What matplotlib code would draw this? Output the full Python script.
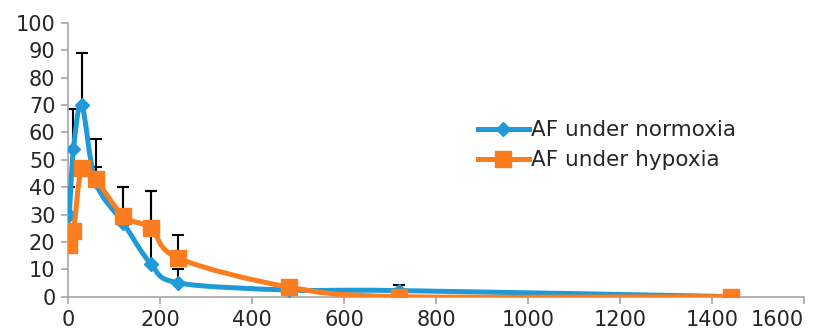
import numpy as np
import matplotlib
matplotlib.use("Agg")
import matplotlib.pyplot as plt
from matplotlib.path import Path
from matplotlib.patches import PathPatch
from matplotlib.lines import Line2D

plt.rcParams["font.family"] = ["DejaVu Sans"]

# time points (min)
time = [3, 12, 30, 60, 120, 180, 240, 480, 720, 1440]

normoxia = [30, 54, 70, 42, 27, 12, 5, 2.4, 2.2, 0]
normoxia_err = [10, 14.5, 19, 15.5, 13, 26.5, 5, 0, 2, 0]

hypoxia = [19, 24, 47, 43, 29.5, 25, 14, 3.5, 0, 0]
hypoxia_err = [0, 0, 0, 4.5, 10.5, 13.5, 8.5, 0, 0, 0]

labels = ["AF under normoxia", "AF under hypoxia"]

blue = "#1f9ad6"
orange = "#fb7d1f"
axis_grey = "#a6a6a6"


def smooth_path(x, y):
    # Excel-like smoothed line as cubic Bezier segments
    x = np.asarray(x, float)
    y = np.asarray(y, float)
    n = len(x)
    verts = [(x[0], y[0])]
    codes = [Path.MOVETO]
    for i in range(n - 1):
        i0 = max(i - 1, 0)
        i3 = min(i + 2, n - 1)
        c1 = (x[i] + (x[i + 1] - x[i0]) / 6, y[i] + (y[i + 1] - y[i0]) / 6)
        c2 = (x[i + 1] - (x[i3] - x[i]) / 6, y[i + 1] - (y[i3] - y[i]) / 6)
        verts += [c1, c2, (x[i + 1], y[i + 1])]
        codes += [Path.CURVE4] * 3
    return Path(verts, codes)


fig = plt.figure(figsize=(8.29, 3.34), dpi=100)
ax = fig.add_axes([0.082, 0.112, 0.888, 0.819])

ax.errorbar(time, normoxia, yerr=[np.zeros(len(time)), normoxia_err],
            fmt="none", ecolor="black", elinewidth=1.5, capsize=4,
            capthick=1.5, zorder=2)
ax.errorbar(time, hypoxia, yerr=[np.zeros(len(time)), hypoxia_err],
            fmt="none", ecolor="black", elinewidth=1.5, capsize=4,
            capthick=1.5, zorder=2)

ax.add_patch(PathPatch(smooth_path(time, normoxia), facecolor="none",
                       edgecolor=blue, lw=3.6, capstyle="round",
                       joinstyle="round", zorder=3))
ax.plot(time, normoxia, ls="none", marker="D", ms=7.5, color=blue, zorder=3)

ax.add_patch(PathPatch(smooth_path(time, hypoxia), facecolor="none",
                       edgecolor=orange, lw=3.6, capstyle="round",
                       joinstyle="round", zorder=4))
ax.plot(time, hypoxia, ls="none", marker="s", ms=11, color=orange, zorder=4)

ax.set_xlim(0, 1600)
ax.set_ylim(0, 100)
ax.set_xticks(np.arange(0, 1601, 200))
ax.set_yticks(np.arange(0, 101, 10))

for side in ["top", "right"]:
    ax.spines[side].set_visible(False)
for side in ["left", "bottom"]:
    ax.spines[side].set_color(axis_grey)
    ax.spines[side].set_linewidth(1.2)
ax.tick_params(axis="both", colors=axis_grey, labelcolor="#262626",
               labelsize=15, length=5, width=1.2)
ax.tick_params(axis="x", pad=5)
ax.tick_params(axis="y", pad=4)

# last x label sits inside the figure edge
ax.get_xticklabels()[-1].set_horizontalalignment("right")

handles = [
    Line2D([], [], color=blue, lw=3.6, marker="D", ms=7.5),
    Line2D([], [], color=orange, lw=3.6, marker="s", ms=11),
]
ax.legend(handles, labels, loc="upper left", bbox_to_anchor=(0.53, 0.715),
          frameon=False, fontsize=15.5, handlelength=2.4, handletextpad=0.1,
          labelspacing=0.45, labelcolor="#262626")

fig.savefig("out.png", dpi=100)
